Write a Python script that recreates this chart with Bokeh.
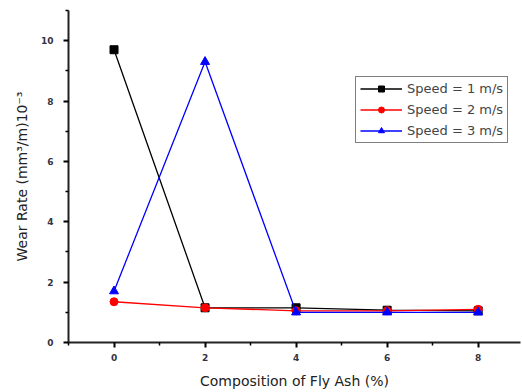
from bokeh.plotting import figure
from bokeh.models import Range1d, Legend, LegendItem, FixedTicker
from bokeh.embed import file_html
from bokeh.resources import INLINE

fly_ash = [0, 2, 4, 6, 8]
speed1 = [9.7, 1.15, 1.15, 1.07, 1.05]
speed2 = [1.35, 1.15, 1.05, 1.05, 1.1]
speed3 = [1.7, 9.3, 1.0, 1.0, 1.0]
labels = ["Speed = 1 m/s", "Speed = 2 m/s", "Speed = 3 m/s"]
x_ticks = [0, 2, 4, 6, 8]
y_ticks = [0, 2, 4, 6, 8, 10]

p = figure(width=522, height=392, output_backend="svg", toolbar_location=None,
           x_range=Range1d(-1, 8.93), y_range=Range1d(0, 11.0),
           min_border_left=68, min_border_right=2, min_border_top=10, min_border_bottom=50)
p.outline_line_color = None
p.grid.visible = False
p.background_fill_color = "white"

r1l = p.line(fly_ash, speed1, color="black", line_width=1.3)
r1m = p.scatter(fly_ash, speed1, marker="square", size=8, color="black")
r2l = p.line(fly_ash, speed2, color="red", line_width=1.3)
r2m = p.scatter(fly_ash, speed2, marker="circle", size=8, color="red")
r3l = p.line(fly_ash, speed3, color="blue", line_width=1.3)
r3m = p.scatter(fly_ash, speed3, marker="triangle", size=9, color="blue")

for ax in (p.xaxis[0], p.yaxis[0]):
    ax.axis_line_width = 2
    ax.axis_line_color = "#222222"
    ax.major_tick_line_width = 2
    ax.minor_tick_line_width = 1.5
    ax.major_tick_out = 5
    ax.major_tick_in = 0
    ax.minor_tick_out = 3
    ax.minor_tick_in = 0
    ax.major_label_text_font = "DejaVu Sans"
    ax.major_label_text_font_size = "9px"
    ax.major_label_text_font_style = "bold"
    ax.major_label_text_color = "#333344"
    ax.axis_label_text_font = "DejaVu Sans"
    ax.axis_label_text_font_size = "14px"
    ax.axis_label_text_font_style = "normal"
    ax.axis_label_text_color = "#222222"

p.xaxis.ticker = FixedTicker(ticks=x_ticks, minor_ticks=[-1, 1, 3, 5, 7])
p.yaxis.ticker = FixedTicker(ticks=y_ticks, minor_ticks=[1, 3, 5, 7, 9, 11])
p.xaxis.axis_label = "Composition of Fly Ash (%)"
p.yaxis.axis_label = "Wear Rate (mm\u00b3/m)10\u207b\u00b3"
p.xaxis.major_label_standoff = 6
p.yaxis.major_label_standoff = 10
p.xaxis.axis_label_standoff = 9
p.yaxis.axis_label_standoff = 8

legend = Legend(items=[LegendItem(label=labels[0], renderers=[r1l, r1m]),
                       LegendItem(label=labels[1], renderers=[r2l, r2m]),
                       LegendItem(label=labels[2], renderers=[r3l, r3m])],
                location=(287, 199))
legend.border_line_color = "black"
legend.border_line_width = 1.5
legend.label_text_font = "DejaVu Sans"
legend.label_text_font_size = "13px"
legend.glyph_width = 42
legend.glyph_height = 15
legend.label_height = 15
legend.spacing = 6
legend.padding = 4
legend.margin = 0
legend.label_standoff = 5
p.add_layout(legend)

open("out.html", "w").write(file_html(p, INLINE))
